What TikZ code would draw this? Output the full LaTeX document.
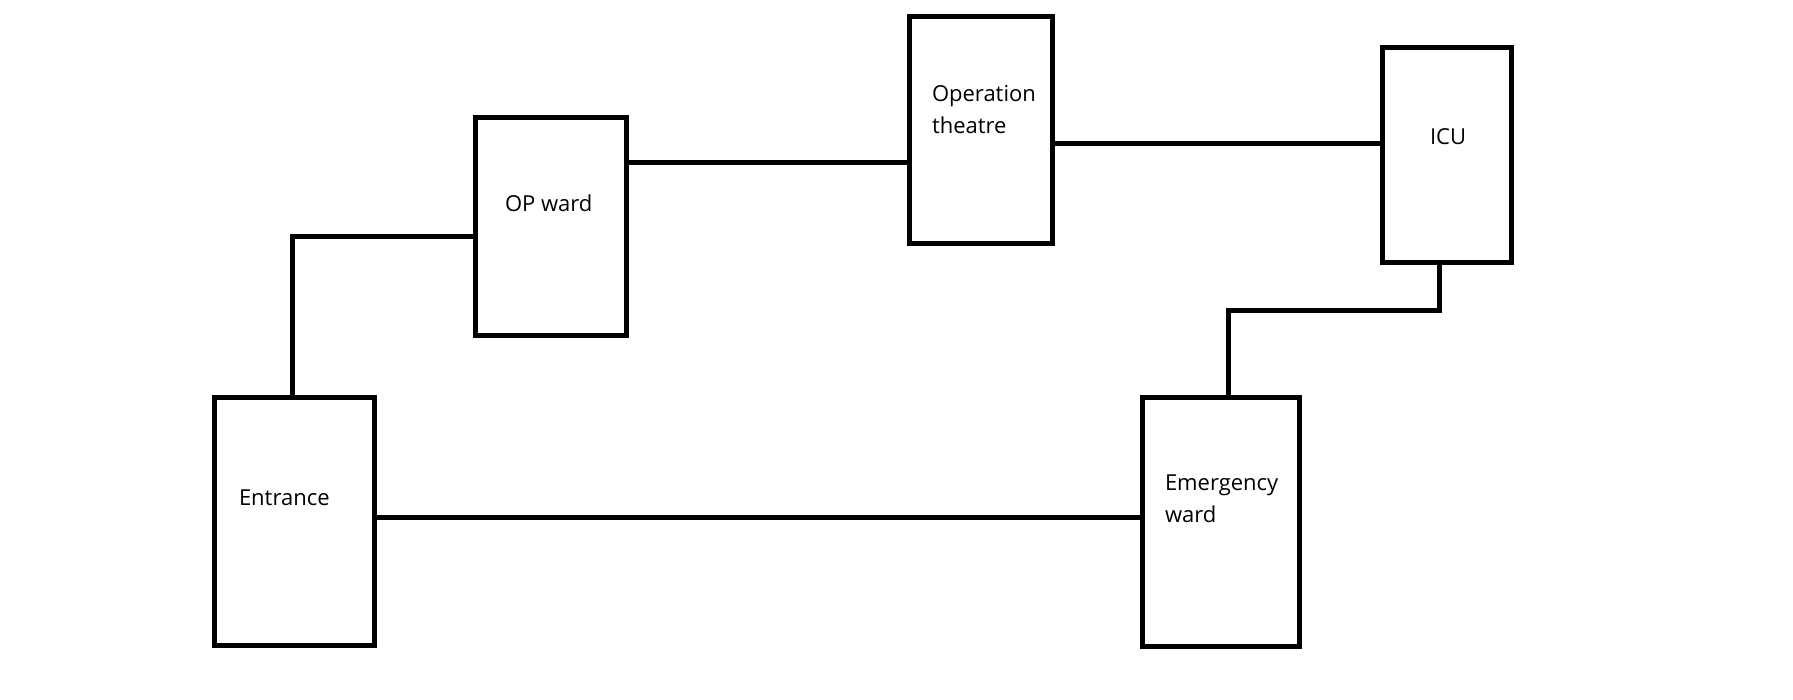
\documentclass[tikz,border=0pt]{standalone}
\usepackage{fontspec}
\setmainfont{Open Sans}
\begin{document}
\begin{tikzpicture}[x=1pt,y=-1pt,
  room/.style={draw=black,line width=5pt,rectangle,inner sep=0pt,outer sep=0pt},
  lbl/.style={inner sep=0pt,outer sep=0pt,anchor=base west,align=left,font=\fontsize{22}{32}\selectfont},
  link/.style={draw=black,line width=5pt}]
\useasboundingbox (0,0) rectangle (1793,700);
\node[room,minimum width=160pt,minimum height=248pt] (entrance) at (294,521) {};
\node[room,minimum width=151pt,minimum height=218pt] (opward) at (550.5,227) {};
\node[room,minimum width=143pt,minimum height=227.5pt] (ot) at (980.5,130.25) {};
\node[room,minimum width=129pt,minimum height=215pt] (icu) at (1446.5,155) {};
\node[room,minimum width=157pt,minimum height=249pt] (emerg) at (1220.5,521.5) {};
\node[lbl] (entrancet) at (239,505.6) {Entrance};
\node[lbl] (opwardt) at (505,212) {OP ward};
\node[lbl] (ott) at (932,133.7) {Operation\\theatre};
\node[lbl] (icut) at (1430,145) {ICU};
\node[lbl] (emergt) at (1165,522.7) {Emergency\\ward};
\draw[link] ([xshift=-2pt]entrance.north) |- ([yshift=-10pt]opward.west);
\draw[link] ([yshift=64.7pt]opward.east) -- ([yshift=64.7pt]opward.east -| ot.west);
\draw[link] ([yshift=-13pt]ot.east) -- ([yshift=-13pt]ot.east -| icu.west);
\draw[link] ([xshift=-7.5pt]icu.south) -- ++(0,48.5) -| ([xshift=8pt]emerg.north);
\draw[link] ([yshift=4pt]entrance.east) -- ([yshift=4pt]entrance.east -| emerg.west);
\end{tikzpicture}
\end{document}
